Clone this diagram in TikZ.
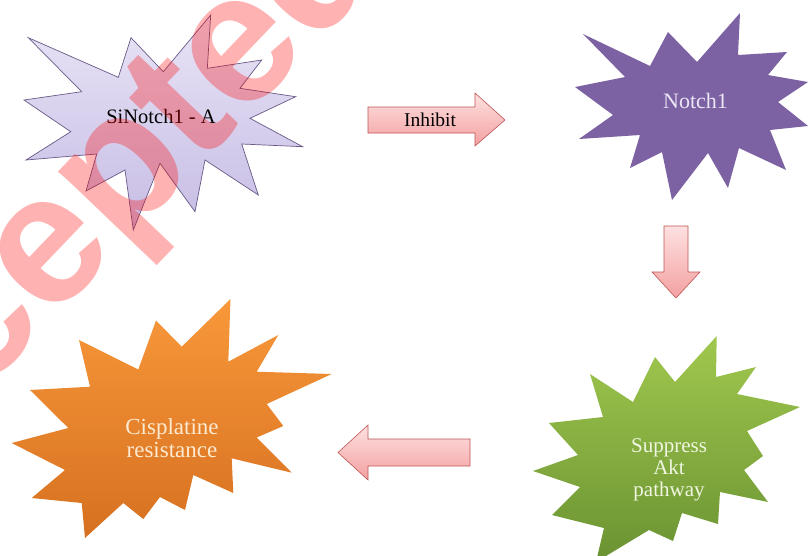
\documentclass[tikz,border=0pt]{standalone}
\usepackage{fontspec}
\setmainfont{Liberation Serif}
\newfontfamily\wmfont{Liberation Sans}
\definecolor{arrowline}{RGB}{190,85,85}
\definecolor{arrowtop}{RGB}{253,225,225}
\definecolor{arrowbot}{RGB}{244,160,160}
\definecolor{lavtop}{RGB}{233,228,246}
\definecolor{lavbot}{RGB}{198,188,228}
\definecolor{lavline}{RGB}{105,90,135}
\definecolor{notchc}{RGB}{124,98,162}
\definecolor{orgtop}{RGB}{248,152,58}
\definecolor{orgbot}{RGB}{214,112,32}
\definecolor{grntop}{RGB}{160,200,78}
\definecolor{grnbot}{RGB}{106,146,50}
\definecolor{notchtxt}{RGB}{236,230,246}
\definecolor{cistxt}{RGB}{253,234,208}
\definecolor{akttxt}{RGB}{240,246,226}
\tikzset{
  blockarrow/.style={draw=arrowline, line width=0.6pt, top color=arrowtop, bottom color=arrowbot},
  burst/.style={line join=miter},
  lbl/.style={inner sep=0pt, align=center}
}
\begin{document}
\begin{tikzpicture}[x=1pt,y=-1pt]
\useasboundingbox (0,0) rectangle (808,555);
\clip (0,0) rectangle (808,555);
% SiNotch1 - A burst
\shadedraw[burst, draw=lavline, line width=0.7pt, top color=lavtop, bottom color=lavbot]
 (28.3,37.7) -- (118.3,77.3) -- (131,37.7) -- (163.3,71.7) -- (210.7,15) -- (207.3,68.3)
 -- (261.7,60) -- (240,88.3) -- (295.7,96.7) -- (250,118.3) -- (302.7,146.7) -- (241.7,144)
 -- (258.3,195) -- (205,160) -- (195,211.7) -- (160,163.3) -- (133.3,230) -- (125,170)
 -- (86,191) -- (96.7,154) -- (26,160) -- (70.7,131.7) -- (24,100) -- (81.7,91.7) -- cycle;
% Notch1 burst
\fill[burst, notchc]
 (583,34) -- (650,66) -- (668,32) -- (697,62) -- (740,13) -- (738,55) -- (787,52) -- (768,75)
 -- (808,82) -- (778,102) -- (808,126) -- (770,130) -- (786,170) -- (739,148) -- (728,188)
 -- (708,153) -- (672,200) -- (662,152) -- (630,168) -- (640,135) -- (579,139) -- (613,115)
 -- (575,87) -- (625,77) -- cycle;
% Cisplatine burst
\shade[burst, top color=orgtop, bottom color=orgbot]
 (79,340) -- (138.3,369.5) -- (156,320.5) -- (181.7,346.7) -- (230.5,299) -- (228.3,361.7)
 -- (278.3,335) -- (256.7,371.7) -- (331.7,374) -- (266.7,404) -- (283.3,426) -- (256.7,437.5)
 -- (291.7,472.7) -- (231.7,458.3) -- (233.3,493) -- (193.3,475) -- (185,510) -- (160,497)
 -- (143.3,519) -- (123.3,503) -- (85,538) -- (81.7,503) -- (31.7,498) -- (65,470)
 -- (11.7,443) -- (68.3,428) -- (30,390) -- (90,386.7) -- cycle;
% Suppress Akt burst
\shade[burst, top color=grntop, bottom color=grnbot]
 (590,374) -- (633,402) -- (655,357) -- (675,382) -- (716.7,336) -- (716,377) -- (756,367)
 -- (737,394) -- (800,407) -- (747,431) -- (763,456) -- (744,470) -- (768,502) -- (720,492)
 -- (718,524) -- (682,513) -- (673,541) -- (649,530) -- (596,562) -- (604,528) -- (552,515)
 -- (580,487) -- (533,471) -- (578,455) -- (549,423) -- (603,417) -- cycle;
% block arrows
\path[blockarrow] (368,107) -- (475,107) -- (475,93) -- (505,120) -- (475,146) -- (475,133) -- (368,133) -- cycle;
\path[blockarrow] (664,226) -- (688,226) -- (688,272) -- (700,272) -- (676,298) -- (652,272) -- (664,272) -- cycle;
\path[blockarrow] (470,439) -- (368,439) -- (368,425) -- (338,452.5) -- (368,480) -- (368,466) -- (470,466) -- cycle;
% labels
\node[lbl, anchor=base, font=\fontsize{20.5}{24}\selectfont] (sinotch) at (161,123.5) {SiNotch1 - A};
\node[lbl, anchor=base, font=\fontsize{19.5}{23}\selectfont] (inhibit) at (430,126) {Inhibit};
\node[lbl, anchor=base, text=notchtxt, font=\fontsize{22}{26}\selectfont] (notch) at (695.5,108.3) {Notch1};
\node[lbl, text=cistxt, font=\fontsize{23}{23.3}\selectfont] (cis) at (172,437.8) {Cisplatine\\resistance};
\node[lbl, text=akttxt, font=\fontsize{21}{21.7}\selectfont] (akt) at (669,470) {Suppress\\Akt\\pathway};
% watermark
\node[rotate=46.3, anchor=base, inner sep=0pt, text=red, text opacity=0.3,
      font=\wmfont\bfseries\fontsize{185}{185}\selectfont] (wm) at (103,267.5) {Accepted};
\end{tikzpicture}
\end{document}
